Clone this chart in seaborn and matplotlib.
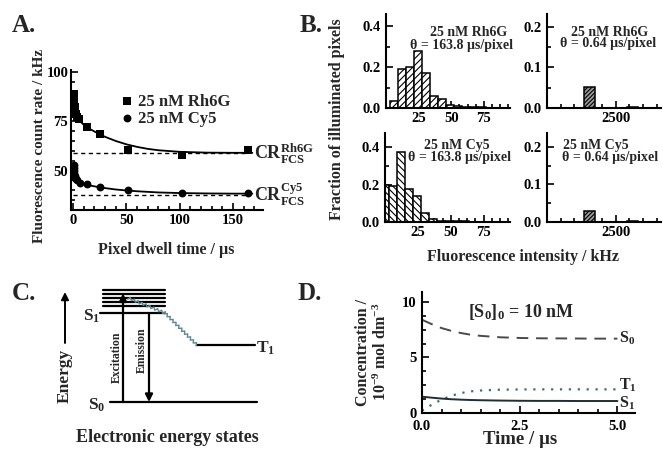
import numpy as np
import pandas as pd
import matplotlib
matplotlib.use("Agg")
import matplotlib.pyplot as plt
import seaborn as sns
from matplotlib.ticker import MultipleLocator, FixedLocator, FormatStrFormatter

# ---------------- data ----------------
# Panel A: fluorescence count rate vs pixel dwell time
rh6g_dwell = [0.64, 0.8, 1.0, 1.28, 1.6, 2.0, 2.56, 3.2, 5.12, 12.8, 25.6, 51.2, 102.4, 163.8]
rh6g_rate = [89, 87.5, 86, 84, 82, 80, 78.5, 77, 76, 72, 68.5, 60.5, 57.8, 60.2]
cy5_dwell = [0.64, 0.8, 1.0, 1.28, 1.6, 2.0, 2.56, 3.2, 6.4, 12.8, 25.6, 51.2, 102.4, 163.8]
cy5_rate = [53, 51.5, 50, 48.5, 47, 46, 45.5, 45, 43.5, 43, 41.5, 40, 38.5, 38.5]
fit_dwell = [0.64, 1, 1.5, 2, 3, 5, 10, 15, 20, 25, 30, 40, 50, 60, 70, 80, 100, 125, 150, 168]
rh6g_fit = [88, 84.5, 81.5, 79.5, 77.5, 75.8, 73.2, 71.3, 69.8, 68.4, 67.1, 65.0, 63.3, 62.0,
            61.0, 60.3, 59.5, 59.1, 59.0, 59.0]
cy5_fit = [52, 49.5, 47.5, 46.2, 45, 44, 43.1, 42.5, 42.0, 41.5, 41.1, 40.4, 39.9, 39.5,
           39.2, 38.9, 38.6, 38.4, 38.3, 38.3]
cr_fcs_rh6g = 58.7
cr_fcs_cy5 = 37.8
cr_line_end = 164
a_yticks = [50, 75, 100]
a_xticks = [0, 50, 100, 150]

# Panel B: histograms (fraction of illuminated pixels)
slow_centers_rh6g = [6.1, 12.2, 18.3, 24.4, 30.5, 36.6, 42.7, 48.8, 54.9, 61.0, 67.1, 73.3, 79.4, 85.5]
slow_frac_rh6g = [0.035, 0.19, 0.20, 0.28, 0.17, 0.06, 0.045, 0.015, 0.008, 0.005, 0.004, 0.003, 0.002, 0.002]
slow_centers_cy5 = [0.0, 6.1, 12.2, 18.3, 24.4, 30.5, 36.6, 42.7, 48.8, 54.9, 61.0, 67.1, 73.3, 79.4, 85.5]
slow_frac_cy5 = [0.20, 0.19, 0.375, 0.175, 0.14, 0.05, 0.017, 0.008, 0.005, 0.004, 0.003, 0.002, 0.002, 0.002, 0.002]
fast_centers = [1562.5, 3125.0]
fast_frac_rh6g = [0.052, 0.003]
fast_frac_cy5 = [0.028, 0.003]

# Panel D: kinetics
time_us = [0, 0.25, 0.5, 0.75, 1.0, 1.25, 1.5, 2.0, 2.5, 3.0, 3.5, 4.0, 4.5, 5.0]
conc_S0 = [8.4, 8.0, 7.65, 7.4, 7.2, 7.05, 6.95, 6.82, 6.76, 6.73, 6.72, 6.71, 6.7, 6.7]
conc_T1 = [0.2, 0.75, 1.2, 1.55, 1.8, 1.95, 2.03, 2.1, 2.12, 2.13, 2.13, 2.13, 2.13, 2.13]
conc_S1 = [1.47, 1.38, 1.3, 1.24, 1.2, 1.17, 1.15, 1.12, 1.1, 1.09, 1.09, 1.08, 1.08, 1.08]

# Panel C: energy level diagram (energy relative to S1 = 1)
level_names = ["S$_0$", "S$_1$", "T$_1$"]
level_energy = [0.0, 1.0, 0.64]
level_x0 = [110, 100, 197]
level_x1 = [257, 165, 255]
vib_energy = [1.08, 1.12, 1.165, 1.21, 1.255]
vib_x0, vib_x1 = 103, 165
isc_x = [128, 165, 197]
isc_e = [1.17, 1.0, 0.64]

# ---------------- style ----------------
sns.set_style("ticks")
plt.rcParams["font.family"] = ["Liberation Serif", "DejaVu Serif"]
plt.rcParams["font.weight"] = "bold"
plt.rcParams["axes.labelweight"] = "bold"
plt.rcParams["mathtext.fontset"] = "custom"
plt.rcParams["mathtext.rm"] = "Liberation Serif:bold"
plt.rcParams["mathtext.it"] = "Liberation Serif:italic:bold"
plt.rcParams["mathtext.bf"] = "Liberation Serif:bold"
plt.rcParams["mathtext.default"] = "rm"
plt.rcParams["hatch.linewidth"] = 0.8

W, H = 663, 449
fig = plt.figure(figsize=(W / 100, H / 100), dpi=100)
fig.patch.set_facecolor("white")


def box(l, t, r, b):
    return [l / W, 1 - b / H, (r - l) / W, (b - t) / H]


def ftext(x, y, s, **kw):
    fig.text(x / W, 1 - y / H, s, **kw)


def style_ax(ax):
    for s in ["top", "right"]:
        ax.spines[s].set_visible(False)
    for s in ["left", "bottom"]:
        ax.spines[s].set_linewidth(1.5)
        ax.spines[s].set_color("black")
    ax.tick_params(which="both", direction="in", width=1.2, colors="black",
                   labelsize=10.5, pad=3)
    ax.tick_params(which="major", length=5)
    ax.tick_params(which="minor", length=3)
    ax.set_facecolor("white")


def bold_ticks(ax):
    for lab in ax.get_xticklabels() + ax.get_yticklabels():
        lab.set_fontweight("bold")


# ---------------- Panel A ----------------
axA = fig.add_axes(box(71, 70, 263, 210))
sns.lineplot(x=fit_dwell, y=rh6g_fit, ax=axA, color="black", lw=1.3, sort=False)
sns.lineplot(x=fit_dwell, y=cy5_fit, ax=axA, color="black", lw=1.3, sort=False)
sns.lineplot(x=[0, cr_line_end], y=[cr_fcs_rh6g, cr_fcs_rh6g], ax=axA, color="black",
             lw=1.0, linestyle=(0, (3, 2.5)))
sns.lineplot(x=[0, cr_line_end], y=[cr_fcs_cy5, cr_fcs_cy5], ax=axA, color="black",
             lw=1.0, linestyle=(0, (3, 2.5)))
sns.scatterplot(x=rh6g_dwell, y=rh6g_rate, ax=axA, marker="s", s=30, color="black",
                edgecolor="black", linewidth=0, label="25 nM Rh6G", zorder=5)
sns.scatterplot(x=cy5_dwell, y=cy5_rate, ax=axA, marker="o", s=32, color="black",
                edgecolor="black", linewidth=0, label="25 nM Cy5", zorder=5)
axA.set_xlim(-2, 178)
axA.set_ylim(30, 101)
axA.set_xticks(a_xticks)
axA.set_xticklabels([str(v) for v in a_xticks])
axA.set_yticks(a_yticks)
axA.set_yticklabels([str(v) for v in a_yticks])
axA.xaxis.set_minor_locator(MultipleLocator(10))
axA.yaxis.set_minor_locator(MultipleLocator(5))
style_ax(axA)
axA.tick_params(axis="y", pad=2)
bold_ticks(axA)
leg = axA.legend(loc="upper left", bbox_to_anchor=(0.265, 0.83), frameon=False,
                 fontsize=12, handlelength=0.6, handletextpad=0.35, labelspacing=0.05,
                 borderpad=0, borderaxespad=0)
for t in leg.get_texts():
    t.set_fontweight("bold")
axA.text(170, cr_fcs_rh6g, r"CR$_{\rm FCS}^{\rm Rh6G}$", ha="left", va="center",
         fontsize=13, clip_on=False)
axA.text(170, cr_fcs_cy5, r"CR$_{\rm FCS}^{\rm Cy5}$", ha="left", va="center",
         fontsize=13, clip_on=False)
ftext(40, 146, "Fluorescence count rate / kHz", rotation=90, ha="center", va="center",
      fontsize=11, fontweight="bold")
ftext(166, 250, "Pixel dwell time / µs", ha="center", va="center", fontsize=11.5,
      fontweight="bold")

# ---------------- Panel B ----------------
def hist_panel(rect, centers, fracs, width, hatch, face, ylim, xlim, xmajor, xminor,
               ymajor, yminor):
    ax = fig.add_axes(rect)
    sns.barplot(x=centers, y=fracs, native_scale=True, width=width, ax=ax,
                color="white", errorbar=None)
    for p in ax.patches:
        p.set_facecolor(face)
        p.set_edgecolor("black")
        p.set_linewidth(1.1)
        p.set_hatch(hatch)
    ax.set_xlim(*xlim)
    ax.set_ylim(*ylim)
    ax.set_xticks(xmajor)
    ax.set_xticklabels([str(v) for v in xmajor])
    ax.set_yticks(ymajor)
    ax.set_yticklabels(["%.1f" % v for v in ymajor])
    ax.xaxis.set_minor_locator(MultipleLocator(xminor))
    ax.yaxis.set_minor_locator(MultipleLocator(yminor))
    ax.set_xlabel("")
    ax.set_ylabel("")
    style_ax(ax)
    ax.tick_params(axis="y", pad=4)
    bold_ticks(ax)
    return ax


axB1 = hist_panel(box(386, 14, 510, 108), slow_centers_rh6g, slow_frac_rh6g, 1.0,
                  "/////", "white", (0, 0.46), (0, 95), [25, 50, 75], 6.25,
                  [0.0, 0.2, 0.4], 0.1)
axB2 = hist_panel(box(547, 14, 661, 108), fast_centers, fast_frac_rh6g, 0.256,
                  "////////", "#9a9a9a", (0, 0.232), (0, 4150), [2500], 500,
                  [0.0, 0.1, 0.2], 0.05)
axB3 = hist_panel(box(385, 133, 510, 222), slow_centers_cy5, slow_frac_cy5, 1.0,
                  "\\\\\\\\\\", "white", (0, 0.475), (0, 95), [25, 50, 75], 6.25,
                  [0.0, 0.2, 0.4], 0.1)
axB4 = hist_panel(box(547, 133, 661, 222), fast_centers, fast_frac_cy5, 0.256,
                  "////////", "#9a9a9a", (0, 0.237), (0, 4150), [2500], 500,
                  [0.0, 0.1, 0.2], 0.05)

ftext(469, 32, "25 nM Rh6G", ha="center", va="center", fontsize=10, fontweight="bold")
ftext(461, 45, "θ = 163.8 µs/pixel", ha="center", va="center", fontsize=10, fontweight="bold")
ftext(610, 32, "25 nM Rh6G", ha="center", va="center", fontsize=10, fontweight="bold")
ftext(608, 44, "θ = 0.64 µs/pixel", ha="center", va="center", fontsize=10, fontweight="bold")
ftext(457, 146, "25 nM Cy5", ha="center", va="center", fontsize=10, fontweight="bold")
ftext(459, 158, "θ = 163.8 µs/pixel", ha="center", va="center", fontsize=10, fontweight="bold")
ftext(596, 146, "25 nM Cy5", ha="center", va="center", fontsize=10, fontweight="bold")
ftext(610, 158, "θ = 0.64 µs/pixel", ha="center", va="center", fontsize=10, fontweight="bold")
ftext(337, 119, "Fraction of illuminated pixels", rotation=90, ha="center", va="center",
      fontsize=11.5, fontweight="bold")
ftext(523, 257, "Fluorescence intensity / kHz", ha="center", va="center", fontsize=11.5,
      fontweight="bold")

# ---------------- Panel C ----------------
axC = fig.add_axes(box(0, 280, 330, 420))
E_PX = 89.0  # pixels per energy unit
axC.set_xlim(0, 330)
axC.set_ylim(-18 / E_PX, 122 / E_PX)
axC.axis("off")
for nm, e, x0, x1 in zip(level_names, level_energy, level_x0, level_x1):
    sns.lineplot(x=[x0, x1], y=[e, e], ax=axC, color="black", lw=1.6)
for e in vib_energy:
    sns.lineplot(x=[vib_x0, vib_x1], y=[e, e], ax=axC, color="black", lw=1.6)

# wavy (radiationless) path
wx, wy = [], []
for i in range(len(isc_x) - 1):
    x0, y0 = isc_x[i], isc_e[i] * E_PX
    x1, y1 = isc_x[i + 1], isc_e[i + 1] * E_PX
    L = np.hypot(x1 - x0, y1 - y0)
    n = int(L / 2.0)
    ux, uy = (x1 - x0) / L, (y1 - y0) / L
    for k in range(n + 1):
        s = k / n
        off = 1.3 if k % 2 else -1.3
        wx.append(x0 + s * (x1 - x0) - uy * off)
        wy.append((y0 + s * (y1 - y0) + ux * off) / E_PX)
axC.plot(wx, wy, color="#5f8890", lw=1.0)

arrow_kw = dict(arrowstyle="-|>", color="black", lw=1.6, mutation_scale=11,
                shrinkA=0, shrinkB=0)
axC.annotate("", xy=(123, 1.22), xytext=(123, 0.0), arrowprops=arrow_kw)
axC.annotate("", xy=(149, 0.0), xytext=(149, 1.0), arrowprops=arrow_kw)
axC.annotate("", xy=(65, 1.236), xytext=(65, 0.663),
             arrowprops=dict(arrowstyle="-|>", color="black", lw=1.4, mutation_scale=11,
                             shrinkA=0, shrinkB=0))
axC.text(65, 0.29, "Energy", rotation=90, ha="center", va="center", fontsize=12.5)
axC.text(117, 0.50, "Excitation", rotation=90, ha="center", va="center", fontsize=8.5)
axC.text(142, 0.58, "Emission", rotation=90, ha="center", va="center", fontsize=8.5)
axC.text(97, -0.04, "S$_0$", ha="center", va="center", fontsize=12.5)
axC.text(92, 0.96, "S$_1$", ha="center", va="center", fontsize=12.5)
axC.text(266, 0.60, "T$_1$", ha="center", va="center", fontsize=12.5)
ftext(167, 438, "Electronic energy states", ha="center", va="center", fontsize=13,
      fontweight="bold")

# ---------------- Panel D ----------------
axD = fig.add_axes(box(422, 292, 635, 413))
sns.lineplot(x=time_us, y=conc_S0, ax=axD, color="#4a4a4a", lw=1.4,
             linestyle=(0, (6, 4)))
sns.lineplot(x=time_us, y=conc_T1, ax=axD, color="#3f6f78", lw=1.6,
             linestyle=(0, (1, 3)))
sns.lineplot(x=time_us, y=conc_S1, ax=axD, color="#1e2e33", lw=1.4)
axD.set_xlim(0, 5.45)
axD.set_ylim(0, 10.9)
axD.set_xticks([0, 2.5, 5.0])
axD.set_xticklabels(["0.0", "2.5", "5.0"])
axD.set_yticks([0, 5, 10])
axD.set_yticklabels(["0", "5", "10"])
axD.xaxis.set_minor_locator(MultipleLocator(0.5))
axD.yaxis.set_minor_locator(MultipleLocator(1.25))
style_ax(axD)
axD.tick_params(axis="x", pad=5)
axD.tick_params(axis="y", pad=4)
bold_ticks(axD)
axD.text(5.03, 6.7, "S$_0$", ha="left", va="center", fontsize=11.5, clip_on=False)
axD.text(5.03, 2.5, "T$_1$", ha="left", va="center", fontsize=11.5, clip_on=False)
axD.text(5.03, 0.85, "S$_1$", ha="left", va="center", fontsize=11.5, clip_on=False)
ftext(468, 312, "[S$_0$]$_0$ = 10 nM", ha="left", va="center", fontsize=13,
      fontweight="bold")
ftext(363, 352, "Concentration /", rotation=90, ha="center", va="center", fontsize=11.5,
      fontweight="bold")
ftext(381, 352, "10$^{-9}$ mol dm$^{-3}$", rotation=90, ha="center", va="center",
      fontsize=11.5, fontweight="bold")
ftext(520, 440, "Time / µs", ha="center", va="center", fontsize=13.5, fontweight="bold")

# ---------------- panel letters ----------------
for lab, x, y in [("A.", 12, 25), ("B.", 300, 25), ("C.", 12, 294), ("D.", 298, 294)]:
    ftext(x, y, lab, ha="left", va="center", fontsize=18, fontweight="bold")

fig.savefig("out.png", dpi=100, facecolor="white")
